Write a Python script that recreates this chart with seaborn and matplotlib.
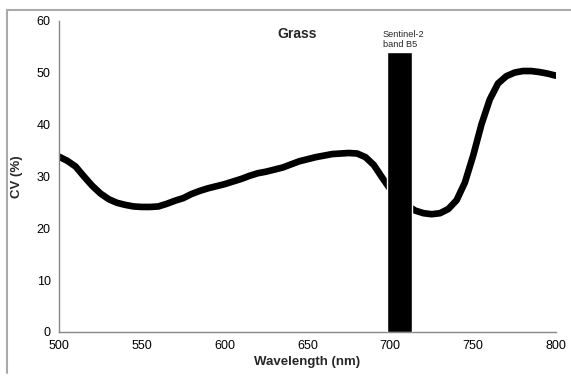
import matplotlib
matplotlib.use("Agg")
import matplotlib.pyplot as plt
from matplotlib.lines import Line2D
import seaborn as sns
import pandas as pd

# ---- data ----
wavelength = [500, 505, 510, 515, 520, 525, 530, 535, 540, 545, 550, 555, 560, 565,
              570, 575, 580, 585, 590, 595, 600, 605, 610, 615, 620, 625, 630, 635,
              640, 645, 650, 655, 660, 665, 670, 675, 680, 685, 690, 695, 700, 705,
              710, 715, 720, 725, 730, 735, 740, 745, 750, 755, 760, 765, 770, 775,
              780, 785, 790, 795, 800]
cv = [33.8, 33.0, 31.9, 30.0, 28.2, 26.7, 25.6, 24.9, 24.5, 24.2, 24.1, 24.1, 24.2, 24.7,
      25.3, 25.8, 26.6, 27.2, 27.7, 28.1, 28.5, 29.0, 29.5, 30.1, 30.6, 30.9, 31.3, 31.7,
      32.3, 32.9, 33.3, 33.7, 34.0, 34.3, 34.4, 34.5, 34.4, 33.7, 32.2, 29.8, 27.5, 25.6,
      24.4, 23.4, 22.9, 22.7, 22.9, 23.7, 25.4, 28.8, 34.0, 40.0, 44.8, 47.9, 49.3, 50.0,
      50.3, 50.3, 50.1, 49.8, 49.4]

band_start = 698
band_end = 713
band_height = 54
band_label = "Sentinel-2\nband B5"
title_text = "Grass"
x_ticks = [500, 550, 600, 650, 700, 750, 800]
y_ticks = [0, 10, 20, 30, 40, 50, 60]

df = pd.DataFrame({"Wavelength": wavelength, "CV": cv})

sns.set_style("white")
plt.rcParams["font.family"] = ["Liberation Sans", "DejaVu Sans"]

fig = plt.figure(figsize=(5.71, 3.77), dpi=100)
ax = fig.add_axes([59 / 571, 1 - 332 / 377, (556 - 59) / 571, (332 - 20.7) / 377])

sns.lineplot(data=df, x="Wavelength", y="CV", color="black", linewidth=4.8,
             ax=ax, zorder=2, solid_capstyle="round", solid_joinstyle="round")
ax.bar((band_start + band_end) / 2, band_height, width=band_end - band_start,
       color="black", zorder=3)

ax.set_xlim(500, 800)
ax.set_ylim(0, 60)
ax.set_xticks(x_ticks)
ax.set_yticks(y_ticks)
ax.tick_params(axis="both", labelsize=9, colors="#888888", labelcolor="black",
               direction="out", length=4, width=1, pad=2)

for s in ["top", "right"]:
    ax.spines[s].set_visible(False)
for s in ["left", "bottom"]:
    ax.spines[s].set_color("#888888")
    ax.spines[s].set_linewidth(1)

ax.set_xlabel("Wavelength (nm)", fontsize=9.5, fontweight="bold", labelpad=3)
ax.set_ylabel("CV (%)", fontsize=9.5, fontweight="bold", labelpad=10)

ax.text(643.5, 57.5, title_text, fontsize=10, fontweight="bold",
        ha="center", va="center")
ax.text(695.5, 54.6, band_label, fontsize=6.6, ha="left", va="bottom",
        linespacing=1.15)

# outer frame (top and left visible)
fig.add_artist(Line2D([7 / 571, 1.0], [1 - 10 / 377, 1 - 10 / 377],
                      transform=fig.transFigure, color="#aaaaaa", linewidth=1.5))
fig.add_artist(Line2D([7 / 571, 7 / 571], [1 - 10 / 377, 1 - 373 / 377],
                      transform=fig.transFigure, color="#aaaaaa", linewidth=1.5))

fig.savefig("out.png", dpi=100)
